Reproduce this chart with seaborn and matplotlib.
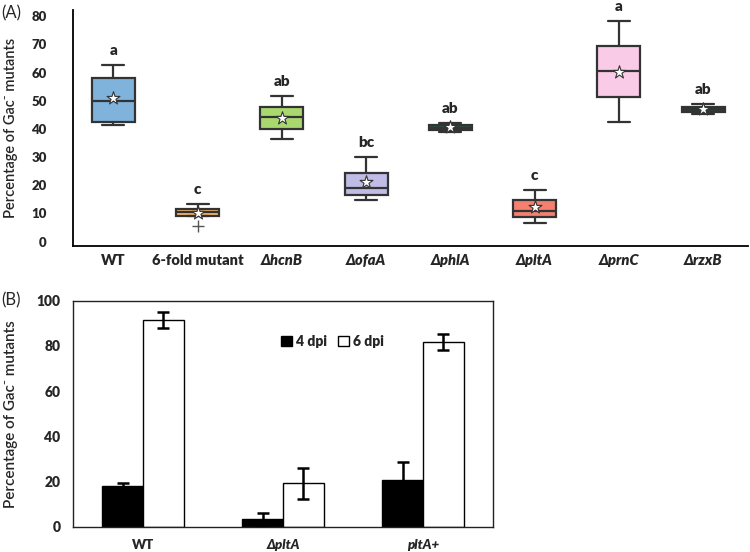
import numpy as np
import pandas as pd
import matplotlib
matplotlib.use("Agg")
import matplotlib.pyplot as plt
from matplotlib.transforms import ScaledTranslation
import seaborn as sns

# ---------------- data: panel A ----------------
strains = ["WT", "6-fold mutant", "ΔhcnB", "ΔofaA", "ΔphlA", "ΔpltA", "ΔprnC", "ΔrzxB"]
mins = [42.8, 7.2, 37.9, 16.2, 40.4, 8.2, 44.0, 46.8]
q1s = [44.1, 10.8, 41.6, 18.1, 41.1, 10.2, 52.9, 47.6]
medians = [51.5, 12.0, 45.7, 20.5, 42.0, 12.3, 62.1, 48.5]
q3s = [59.7, 13.1, 49.3, 25.9, 43.1, 16.2, 71.0, 49.5]
maxs = [64.1, 15.0, 53.2, 31.5, 43.8, 20.0, 79.9, 50.3]
means = [52.6, 11.6, 45.4, 22.8, 42.1, 13.7, 61.9, 48.6]
letters = ["a", "c", "ab", "bc", "ab", "c", "a", "ab"]
box_colors = ["#80b3dc", "#f2b66c", "#a9d96e", "#bfbce6", "#2f4d45",
              "#f58070", "#f9cbe6", "#2f3b37"]
a_yticks = [0, 10, 20, 30, 40, 50, 60, 70, 80]

# ---------------- data: panel B ----------------
groups = ["WT", "ΔpltA", "pltA+"]
days = ["4 dpi", "6 dpi"]
dpi4 = [18.0, 3.5, 20.8]
err4 = [1.5, 2.6, 7.8]
dpi6 = [91.3, 19.2, 81.7]
err6 = [3.5, 6.8, 3.7]
b_yticks = [0, 20, 40, 60, 80, 100]

sns.set_style("white")
plt.rcParams["font.family"] = ["Lato", "DejaVu Sans"]
BOLD = "heavy"

fig = plt.figure(figsize=(7.5, 5.52), dpi=100)
axA = fig.add_axes([0.0973, 0.5543, 0.8997, 0.4276])
axB = fig.add_axes([0.0973, 0.0458, 0.5600, 0.4095])

# ---------------- panel A ----------------
rows = []
for s, a, b, c, d, e in zip(strains, mins, q1s, medians, q3s, maxs):
    for v in (a, b, c, d, e):
        rows.append({"strain": s, "value": v})
dfA = pd.DataFrame(rows)

sns.boxplot(data=dfA, x="strain", y="value", hue="strain", order=strains,
            hue_order=strains, palette=box_colors, legend=False, width=0.51,
            linewidth=1.6, linecolor="#333333", whis=1.5, capwidths=0.26,
            saturation=1,
            flierprops=dict(marker="+", markersize=9, markeredgecolor="#555555",
                            markeredgewidth=1.0),
            ax=axA)
pos = np.arange(len(strains))
axA.scatter(pos, means, marker="*", s=95, c="white", edgecolors="#333333",
            linewidths=0.8, zorder=6)
for x, top, lab in zip(pos, maxs, letters):
    axA.text(x, top + 3.6, lab, ha="center", va="baseline", fontsize=11,
             fontweight=BOLD, clip_on=False)

axA.set_xlim(-0.48, 7.53)
axA.set_ylim(0, 83.8)
axA.set_yticks(a_yticks)
axA.set_yticklabels([str(t) for t in a_yticks], fontsize=9.5, fontweight=BOLD)
axA.set_xticks(pos)
axA.set_xticklabels(strains, fontsize=10.5, fontweight=BOLD)
for lab in axA.get_xticklabels():
    if lab.get_text().startswith("Δ"):
        lab.set_fontstyle("italic")
axA.set_xlabel("")
axA.set_ylabel("Percentage of Gac⁻ mutants", fontsize=10.5, fontweight="semibold")
axA.yaxis.set_label_coords(-0.081, 0.5)
for side in ("top", "right"):
    axA.spines[side].set_visible(False)
for side in ("left", "bottom"):
    axA.spines[side].set_color("black")
    axA.spines[side].set_linewidth(1.3)
axA.tick_params(axis="y", direction="in", length=4, color="#aaaaaa", pad=19)
axA.tick_params(axis="x", direction="in", length=6, color="#aaaaaa", pad=6)
off = ScaledTranslation(0, 0.045, fig.dpi_scale_trans)
for lab in axA.get_yticklabels():
    lab.set_transform(lab.get_transform() + off)

# ---------------- panel B ----------------
dfB = pd.DataFrame({
    "group": groups * 2,
    "day": [days[0]] * 3 + [days[1]] * 3,
    "value": dpi4 + dpi6,
})
sns.barplot(data=dfB, x="group", y="value", hue="day", order=groups,
            hue_order=days, palette=["black", "white"], edgecolor="black",
            linewidth=1.0, width=0.58, errorbar=None, saturation=1, ax=axB)
for cont, errs in zip(axB.containers, (err4, err6)):
    xs = [b.get_x() + b.get_width() / 2 for b in cont]
    hs = [b.get_height() for b in cont]
    axB.errorbar(xs, hs, yerr=errs, fmt="none", ecolor="black",
                 elinewidth=1.8, capsize=4, capthick=1.8, zorder=5)

axB.set_xlim(-0.5, 2.5)
axB.set_ylim(0, 100)
axB.set_yticks(b_yticks)
axB.set_yticklabels([str(t) for t in b_yticks], fontsize=10, fontweight=BOLD)
axB.set_xticks(np.arange(len(groups)))
axB.set_xticklabels(groups, fontsize=9.5, fontweight=BOLD)
for lab in axB.get_xticklabels():
    if lab.get_text() != "WT":
        lab.set_fontstyle("italic")
axB.set_xticks([-0.5, 0.5, 1.5, 2.5], minor=True)
axB.tick_params(axis="x", which="major", length=0, pad=9)
axB.tick_params(axis="x", which="minor", direction="out", length=5,
                color="#999999")
axB.tick_params(axis="y", direction="out", length=5, color="#999999", pad=4)
axB.set_xlabel("")
axB.set_ylabel("Percentage of Gac⁻ mutants", fontsize=11, fontweight="semibold")
axB.yaxis.set_label_coords(-0.131, 0.5)
for side in axB.spines.values():
    side.set_visible(True)
    side.set_color("#222222")
    side.set_linewidth(1.0)
axB.legend(ncol=2, frameon=False, loc="center left",
           bbox_to_anchor=(0.465, 0.82), handlelength=0.8, handleheight=0.8,
           handletextpad=0.3, columnspacing=0.8,
           prop=dict(weight=BOLD, size=10))

fig.text(0.002, 0.975, "(A)", fontsize=12, ha="left", va="center")
fig.text(0.002, 0.455, "(B)", fontsize=12, ha="left", va="center")

fig.savefig("out.png", dpi=100)
